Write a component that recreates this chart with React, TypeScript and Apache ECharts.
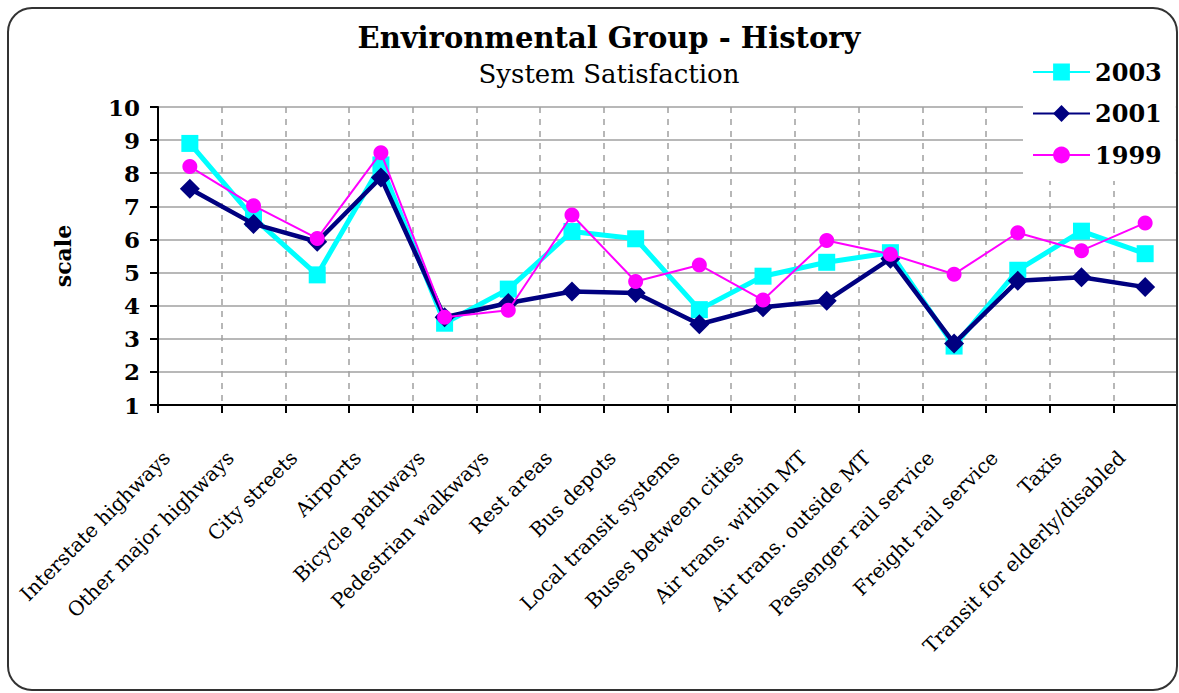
import React, { useEffect, useRef } from "react";
import * as echarts from "echarts";

const categories = [
  "Interstate highways",
  "Other major highways",
  "City streets",
  "Airports",
  "Bicycle pathways",
  "Pedestrian walkways",
  "Rest areas",
  "Bus depots",
  "Local transit systems",
  "Buses between cities",
  "Air trans. within MT",
  "Air trans. outside MT",
  "Passenger rail service",
  "Freight rail service",
  "Taxis",
  "Transit for elderly/disabled",
];

const values2003 = [8.9, 6.65, 4.93, 8.25, 3.47, 4.5, 6.24, 6.02, 3.88, 4.89, 5.31, 5.6, 2.78, 5.07, 6.25, 5.57];
const values2001 = [7.53, 6.47, 5.93, 7.87, 3.65, 4.08, 4.43, 4.38, 3.44, 3.95, 4.15, 5.42, 2.86, 4.75, 4.86, 4.56];
const values1999 = [8.2, 7.02, 6.03, 8.62, 3.65, 3.86, 6.74, 4.73, 5.23, 4.17, 5.97, 5.55, 4.95, 6.2, 5.66, 6.5];

const yTicks = { min: 1, max: 10, interval: 1 };

const titleText = "Environmental Group - History";
const subtitleText = "System Satisfaction";
const yAxisName = "scale";

const FONT = "DejaVu Serif";

export default function App() {
  const ref = useRef<HTMLDivElement>(null);

  useEffect(() => {
    if (!ref.current) return;
    const chart = echarts.init(ref.current, null, { renderer: "svg" });
    chart.setOption({
      animation: false,
      backgroundColor: "#ffffff",
      grid: { left: 158, right: 2, top: 107, bottom: 288, containLabel: false },
      legend: {
        orient: "vertical",
        left: 1023,
        top: 50,
        data: ["2003", "2001", "1999"],
        itemWidth: 57,
        itemHeight: 21,
        itemGap: 17.5,
        backgroundColor: "#ffffff",
        padding: [10, 14, 14, 9],
        textStyle: { fontFamily: FONT, fontWeight: "bold", fontSize: 24, color: "#000", lineHeight: 24 },
      },
      xAxis: {
        type: "category",
        data: categories,
        boundaryGap: true,
        axisLine: { lineStyle: { color: "#000", width: 2 } },
        axisTick: { show: true, alignWithLabel: false, length: 8, lineStyle: { color: "#000", width: 2 } },
        splitLine: { show: true, lineStyle: { color: "#a0a0a0", width: 1.5, type: [6, 6] } },
        axisLabel: {
          interval: 0,
          rotate: 45,
          margin: 26,
          padding: [0, 33, 0, 0],
          fontFamily: FONT,
          fontSize: 20,
          color: "#000",
        },
      },
      yAxis: {
        type: "value",
        min: yTicks.min,
        max: yTicks.max,
        interval: yTicks.interval,
        name: yAxisName,
        nameLocation: "middle",
        nameGap: 84,
        nameTextStyle: { fontFamily: FONT, fontWeight: "bold", fontSize: 22, color: "#000" },
        axisLine: { show: true, lineStyle: { color: "#000", width: 2 } },
        axisTick: { show: true, length: 8, lineStyle: { color: "#000", width: 2 } },
        splitLine: { show: true, lineStyle: { color: "#a0a0a0", width: 1.5 } },
        axisLabel: { margin: 18, fontFamily: FONT, fontWeight: "bold", fontSize: 23, color: "#000" },
      },
      series: [
        {
          name: "2003",
          type: "line",
          data: values2003,
          symbol: "rect",
          symbolSize: 17,
          lineStyle: { color: "#00ffff", width: 5 },
          itemStyle: { color: "#00ffff" },
          z: 2,
        },
        {
          name: "2001",
          type: "line",
          data: values2001,
          symbol: "diamond",
          symbolSize: 20,
          lineStyle: { color: "#000080", width: 4.5 },
          itemStyle: { color: "#000080" },
          z: 3,
        },
        {
          name: "1999",
          type: "line",
          data: values1999,
          symbol: "circle",
          symbolSize: 15,
          lineStyle: { color: "#ff00ff", width: 2 },
          itemStyle: { color: "#ff00ff" },
          z: 4,
        },
      ],
      graphic: [
        {
          type: "rect",
          z: 100,
          silent: true,
          shape: { x: 8, y: 8, width: 1169, height: 682, r: 24 },
          style: { fill: "none", stroke: "#333", lineWidth: 2 },
        },
        {
          type: "text",
          z: 100,
          x: 609,
          y: 38,
          style: {
            text: titleText,
            fill: "#000",
            font: `bold 29px "${FONT}"`,
            align: "center",
            verticalAlign: "middle",
            textAlign: "center",
            textVerticalAlign: "middle",
          },
        },
        {
          type: "text",
          z: 100,
          x: 609,
          y: 74,
          style: {
            text: subtitleText,
            fill: "#000",
            font: `26px "${FONT}"`,
            align: "center",
            verticalAlign: "middle",
            textAlign: "center",
            textVerticalAlign: "middle",
          },
        },
      ],
    });
    return () => chart.dispose();
  }, []);

  return (
    <div
      ref={ref}
      style={{ position: "absolute", left: 0, top: 0, width: 1179, height: 693 }}
    />
  );
}
